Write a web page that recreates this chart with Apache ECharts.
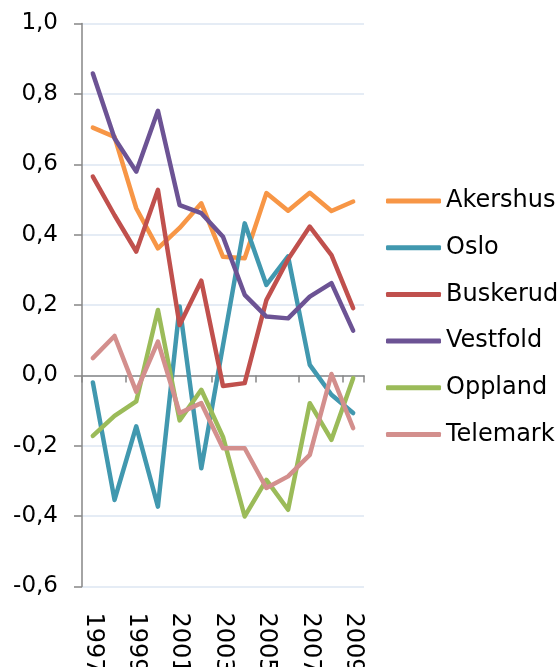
<!DOCTYPE html>
<html>
<head>
<meta charset="utf-8">
<script src="https://cdn.jsdelivr.net/npm/echarts@6/dist/echarts.min.js"></script>
<style>
  html, body { margin: 0; padding: 0; background: #fff; }
  #chart { width: 559px; height: 667px; }
</style>
</head>
<body>
<div id="chart"></div>
<script>
let years = ['1997','1998','1999','2000','2001','2002','2003','2004','2005','2006','2007','2008','2009']
let names = ['Akershus','Oslo','Buskerud','Vestfold','Oppland','Telemark']
let colors = ['#F79646','#4198AF','#C0504D','#6C5394','#9BBB59','#D38F8D']

let akershus = [0.704,0.678,0.475,0.361,0.419,0.489,0.337,0.333,0.518,0.468,0.519,0.467,0.494]
let oslo     = [-0.02,-0.354,-0.145,-0.373,0.196,-0.264,0.085,0.432,0.257,0.338,0.03,-0.055,-0.107]
let buskerud = [0.565,0.455,0.352,0.527,0.143,0.269,-0.03,-0.022,0.214,0.33,0.423,0.342,0.191]
let vestfold = [0.858,0.674,0.579,0.752,0.484,0.461,0.394,0.229,0.167,0.162,0.224,0.262,0.127]
let oppland  = [-0.172,-0.115,-0.074,0.186,-0.128,-0.041,-0.175,-0.401,-0.297,-0.382,-0.079,-0.183,-0.008]
let telemark = [0.049,0.112,-0.046,0.096,-0.107,-0.079,-0.207,-0.207,-0.32,-0.287,-0.226,0.004,-0.15]

let seriesData = [akershus, oslo, buskerud, vestfold, oppland, telemark]

let chart = echarts.init(document.getElementById('chart'))
let font = 'DejaVu Sans'

// one series per county
let series = []
for (let i = 0; i < names.length; i++) {
    series.push({
        name: names[i],
        type: 'line',
        xAxisIndex: 0,
        data: seriesData[i],
        symbol: 'none',
        lineStyle: { width: 4.5, color: colors[i], cap: 'round', join: 'round' },
        itemStyle: { color: colors[i] }
    })
}

chart.setOption({
    animation: false,
    color: colors,
    grid: { left: 82, right: 195, top: 23.5, bottom: 80.5, containLabel: false, outerBoundsMode: 'none' },
    legend: {
        orient: 'vertical',
        left: 386,
        top: 189,
        padding: 0,
        icon: 'roundRect',
        itemWidth: 55,
        itemHeight: 5,
        itemGap: 22.7,
        itemTextGap: 5,
        itemStyle: { borderWidth: 0 },
        textStyle: { fontFamily: font, fontSize: 24, color: '#000', lineHeight: 24 },
        data: names
    },
    xAxis: [
        {
            // axis at zero with ticks between categories
            type: 'category',
            data: years,
            position: 'bottom',
            boundaryGap: true,
            axisLine: { onZero: true, lineStyle: { color: '#868686', width: 1.5 } },
            axisTick: { show: true, length: 7, lineStyle: { color: '#868686', width: 1.5 } },
            axisLabel: { show: false },
            splitLine: { show: false }
        },
        {
            // labels at bottom of plot
            type: 'category',
            data: years,
            position: 'bottom',
            boundaryGap: true,
            axisLine: { show: false, onZero: false },
            axisTick: { show: false },
            axisLabel: {
                interval: 1,
                rotate: -90,
                margin: 26,
                fontFamily: font,
                fontSize: 24,
                color: '#000'
            },
            splitLine: { show: false }
        }
    ],
    yAxis: {
        type: 'value',
        min: -0.6,
        max: 1.0,
        interval: 0.2,
        axisLine: { show: true, lineStyle: { color: '#868686', width: 1.5 } },
        axisTick: { show: true, length: 8, lineStyle: { color: '#868686', width: 1.5 } },
        axisLabel: {
            margin: 24,
            fontFamily: font,
            fontSize: 23,
            color: '#000',
            formatter: v => v.toFixed(1).replace('.', ',')
        },
        splitLine: { show: true, lineStyle: { color: '#DCE6F2', width: 1.5 } }
    },
    series: series
})
</script>
</body>
</html>
